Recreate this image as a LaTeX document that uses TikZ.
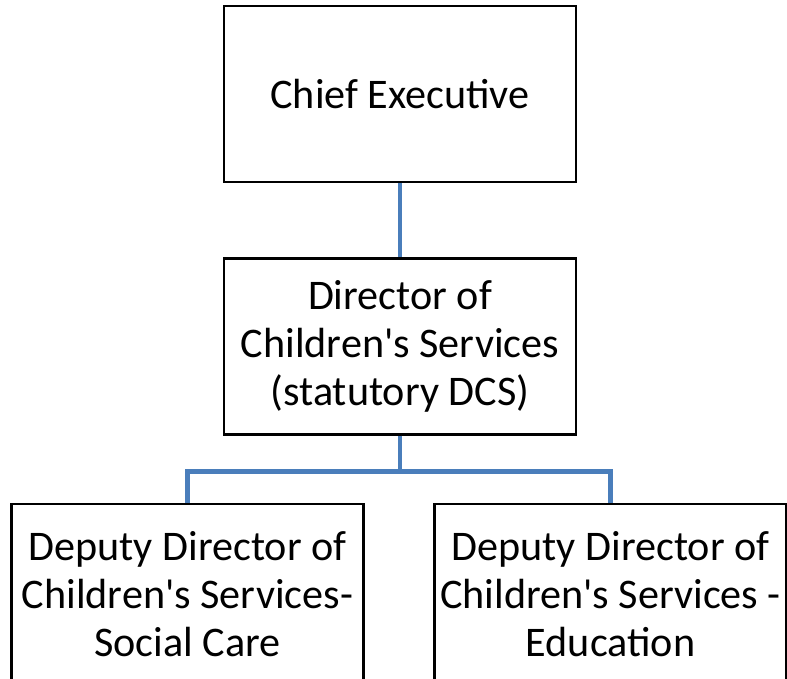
\documentclass[tikz,border=0pt]{standalone}
\usepackage{fontspec}
\setmainfont{Carlito}
\usetikzlibrary{positioning, shadows}

\definecolor{linkblue}{RGB}{74,126,187}

\begin{document}
\begin{tikzpicture}[
    post/.style = {draw, line width=1.7pt, fill=white, align=center,
      minimum width=8.8cm, minimum height=4.4cm, inner sep=2pt,
      font=\fontsize{30}{34}\selectfont,
      drop shadow={shadow xshift=1pt, shadow yshift=-1pt, opacity=0.3}},
    link/.style = {linkblue, line width=3.2pt}]
    \useasboundingbox (0,0) rectangle (19.675,-16.975);
    \clip (0,0) rectangle (19.675,-16.975);

    \node[post] (chief) at (10,-2.35) {Chief Executive};
    \node[post, below = 1.85cm of chief] (dcs)
      {Director of\\Children\textquotesingle s Services\\(statutory DCS)};

    \node[post, anchor=north, minimum height=4.5cm] (ddsc) at (4.6875,-12.575)
      {Deputy Director of\\Children\textquotesingle s Services-\\Social Care};
    \node[post, anchor=north, minimum height=4.5cm] (ddedu) at (15.2625,-12.575)
      {Deputy Director of\\Children\textquotesingle s Services -\\Education};

    \coordinate[below = 0.9cm of dcs.south] (bar);

    \draw[link] (chief) -- (dcs);
    \draw[link] (dcs.south) -- (bar) -| (ddsc.north);
    \draw[link] (bar) -| (ddedu.north);
  \end{tikzpicture}
\end{document}
